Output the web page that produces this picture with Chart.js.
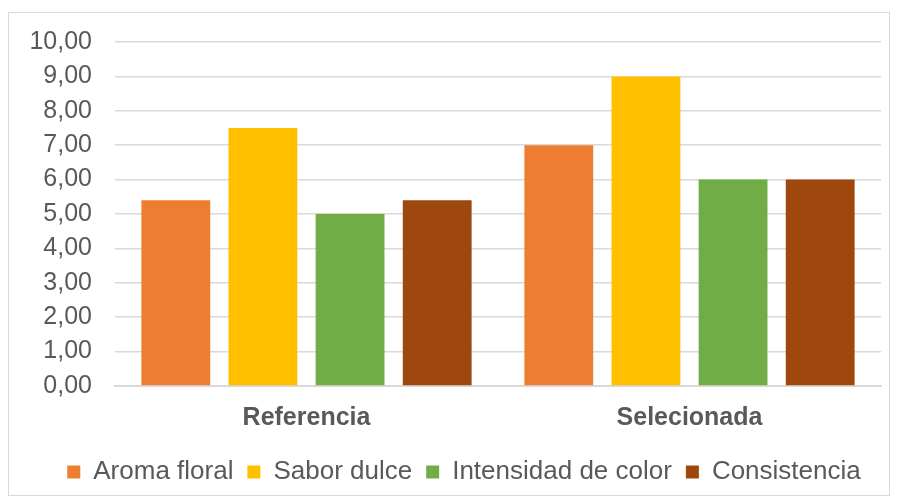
<!DOCTYPE html>
<html>
<head>
<meta charset="utf-8">
<script src="https://cdn.jsdelivr.net/npm/chart.js@4"></script>
<style>
  html, body { margin: 0; padding: 0; background: #fff; }
  #box {
    position: absolute; left: 8px; top: 12px;
    width: 882px; height: 484px;
    box-sizing: border-box;
    border: 1px solid #d9d9d9;
  }
  #chart { display: block; }
</style>
</head>
<body>
<div id="box"><canvas id="chart" width="880" height="482"></canvas></div>
<script>
const categories = ["Referencia", "Selecionada"];
const seriesNames = ["Aroma floral", "Sabor dulce", "Intensidad de color", "Consistencia"];
const aromaFloral = [5.4, 7.0];
const saborDulce = [7.5, 9.0];
const intensidadColor = [5.0, 6.0];
const consistencia = [5.4, 6.0];
const colors = ["#ED7D31", "#FFC000", "#70AD47", "#9E480E"];

const values = [aromaFloral, saborDulce, intensidadColor, consistencia];
const datasets = seriesNames.map((name, i) => ({
  label: name,
  data: values[i],
  backgroundColor: colors[i],
  borderWidth: 0,
  barPercentage: 0.79,
  categoryPercentage: 0.91
}));

const fmt = new Intl.NumberFormat("es-ES", { minimumFractionDigits: 2, maximumFractionDigits: 2 });
const textColor = "#595959";
const font = "'Liberation Sans', Arial, sans-serif";

// the original legend sits a bit right of centre and slightly lower
const legendShift = {
  id: "legendShift",
  afterLayout(chart) {
    chart.legend.left += 19;
    chart.legend.right += 19;
    chart.legend.top += 3;
    chart.legend.bottom += 3;
  }
};

new Chart(document.getElementById("chart"), {
  type: "bar",
  data: { labels: categories, datasets },
  plugins: [legendShift],
  options: {
    responsive: false,
    animation: false,
    layout: { padding: { top: 29, right: 8, bottom: 3, left: 0 } },
    scales: {
      x: {
        grid: { display: false, drawTicks: false },
        border: { display: true, color: "#d9d9d9", width: 2 },
        ticks: { color: textColor, padding: 17, font: { family: font, size: 25, weight: "bold" } },
        afterFit: s => { s.height = 56; }
      },
      y: {
        min: 0,
        max: 10,
        grid: { color: "#d9d9d9", lineWidth: 1.5, drawTicks: false },
        border: { display: false },
        ticks: {
          stepSize: 1,
          color: textColor,
          padding: 23,
          font: { family: font, size: 25 },
          callback: v => fmt.format(v)
        },
        afterFit: s => {
          s.width = 106;
          s.paddingTop = 0;
          s.paddingBottom = 0;
        }
      }
    },
    plugins: {
      legend: {
        position: "bottom",
        labels: {
          color: textColor,
          boxWidth: 13,
          boxHeight: 13,
          padding: 14,
          font: { family: font, size: 26 }
        }
      },
      tooltip: { enabled: false }
    }
  }
});
</script>
</body>
</html>
